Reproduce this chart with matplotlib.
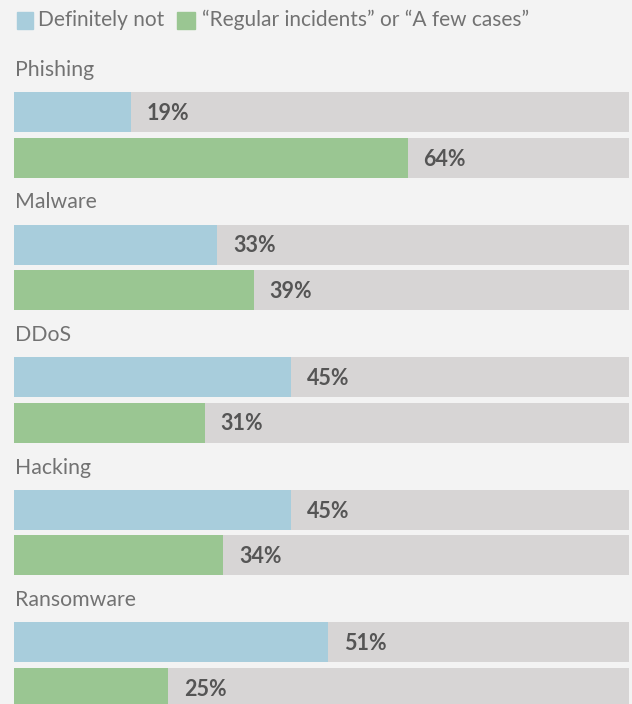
import matplotlib.pyplot as plt
from matplotlib.patches import Rectangle

# Share of respondents per threat type (percent)
categories = ['Phishing', 'Malware', 'DDoS', 'Hacking', 'Ransomware']
definitely_not = [19, 33, 45, 45, 51]
regular_or_few = [64, 39, 31, 34, 25]
series_labels = ['Definitely not', '\u201cRegular incidents\u201d or \u201cA few cases\u201d']

BG = '#f3f3f3'
TRACK = '#d7d5d5'
BLUE = '#a8cddc'
GREEN = '#9ac692'
TEXT = '#727272'
VALUE = '#555555'

plt.rcParams['font.family'] = ['Lato', 'DejaVu Sans']

W, H = 632, 704
fig = plt.figure(figsize=(W / 100, H / 100), dpi=100, facecolor=BG)
ax = fig.add_axes([14 / W, 0, 615 / W, 1])
ax.set_facecolor(BG)
ax.set_xlim(0, 100)
ax.set_ylim(H, 0)
ax.axis('off')

step = 132.5
bar_h = 40
first = 112
for i, (cat, a, b) in enumerate(zip(categories, definitely_not, regular_or_few)):
    yb = first + i * step
    yg = yb + 45.5
    ax.barh([yb, yg], [100, 100], height=bar_h, color=TRACK, clip_on=False)
    ax.barh(yb, a, height=bar_h, color=BLUE)
    ax.barh(yg, b, height=bar_h, color=GREEN)
    ax.text(0.2, yb - 42, cat, fontsize=15.3, fontweight='normal', color=TEXT,
            va='center', ha='left')
    for v, y in ((a, yb), (b, yg)):
        ax.annotate(f'{v}%', (v, y + 1.5), xytext=(11.5, 0), textcoords='offset points',
                    fontsize=15.5, fontweight='bold', color=VALUE,
                    va='center', ha='left')

# legend drawn in figure pixels
fig.patches.append(Rectangle((17 / W, 1 - 29 / H), 16 / W, 17 / H,
                             transform=fig.transFigure, color=BLUE))
fig.text(38 / W, 1 - 20 / H, series_labels[0], fontsize=15, fontweight='normal',
         color=TEXT, va='center')
fig.patches.append(Rectangle((177 / W, 1 - 29 / H), 18 / W, 17 / H,
                             transform=fig.transFigure, color=GREEN))
fig.text(202 / W, 1 - 20 / H, series_labels[1], fontsize=15, fontweight='normal',
         color=TEXT, va='center')

fig.savefig('out.png', dpi=100, facecolor=BG)
